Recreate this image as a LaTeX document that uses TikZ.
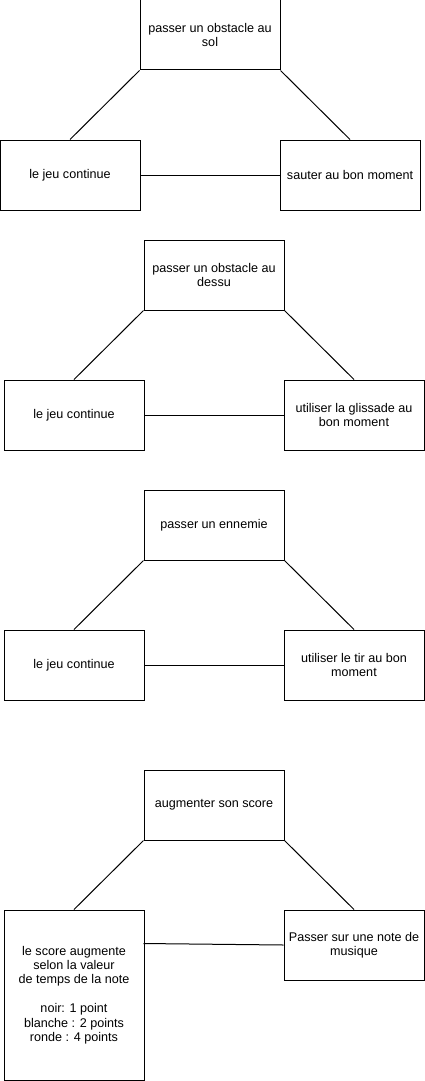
\documentclass[tikz,border=0pt]{standalone}
\usepackage{fontspec}
\setmainfont{Liberation Sans}
\usetikzlibrary{calc}
\begin{document}
\begin{tikzpicture}[x=1pt,y=-1pt,
  box/.style={draw=black,line width=1pt,rectangle,minimum width=140pt,minimum height=70pt,inner sep=0pt,align=center,font=\fontsize{12.6}{14.4}\selectfont,text=black},
  link/.style={draw=black,line width=1pt}]
\useasboundingbox (0,0) rectangle (425,1081);
% group 1
\node[box] (t1) at (210,35) {passer un obstacle au\\sol};
\node[box] (l1) at (70,175) {le jeu continue};
\node[box] (r1) at (350,175) {sauter au bon moment};
\draw[link] (t1.south west) -- (l1.north);
\draw[link] (t1.south east) -- (r1.north);
\draw[link] (l1.east) -- (r1.west);
% group 2
\node[box] (t2) at (214,275) {passer un obstacle au\\dessu};
\node[box] (l2) at (74,415) {le jeu continue};
\node[box] (r2) at (354,415) {utiliser la glissade au\\bon moment};
\draw[link] (t2.south west) -- (l2.north);
\draw[link] (t2.south east) -- (r2.north);
\draw[link] (l2.east) -- (r2.west);
% group 3
\node[box] (t3) at (214,525) {passer un ennemie};
\node[box] (l3) at (74,665) {le jeu continue};
\node[box] (r3) at (354,665) {utiliser le tir au bon\\moment};
\draw[link] (t3.south west) -- (l3.north);
\draw[link] (t3.south east) -- (r3.north);
\draw[link] (l3.east) -- (r3.west);
% group 4
\node[box] (t4) at (214,805) {augmenter son score};
\node[box,minimum height=170pt] (l4) at (74,995) {le score augmente\\selon la valeur\\de temps de la note\\[14.4pt]noir: 1 point\\blanche : 2 points\\ronde : 4 points};
\node[box] (r4) at (354,945) {Passer sur une note de\\musique};
\coordinate (l4e) at ($(l4.north east)+(-1,34)$);
\draw[link] (t4.south west) -- (l4.north);
\draw[link] (t4.south east) -- (r4.north);
\draw[link] (l4e) -- (r4.west);
\end{tikzpicture}
\end{document}
